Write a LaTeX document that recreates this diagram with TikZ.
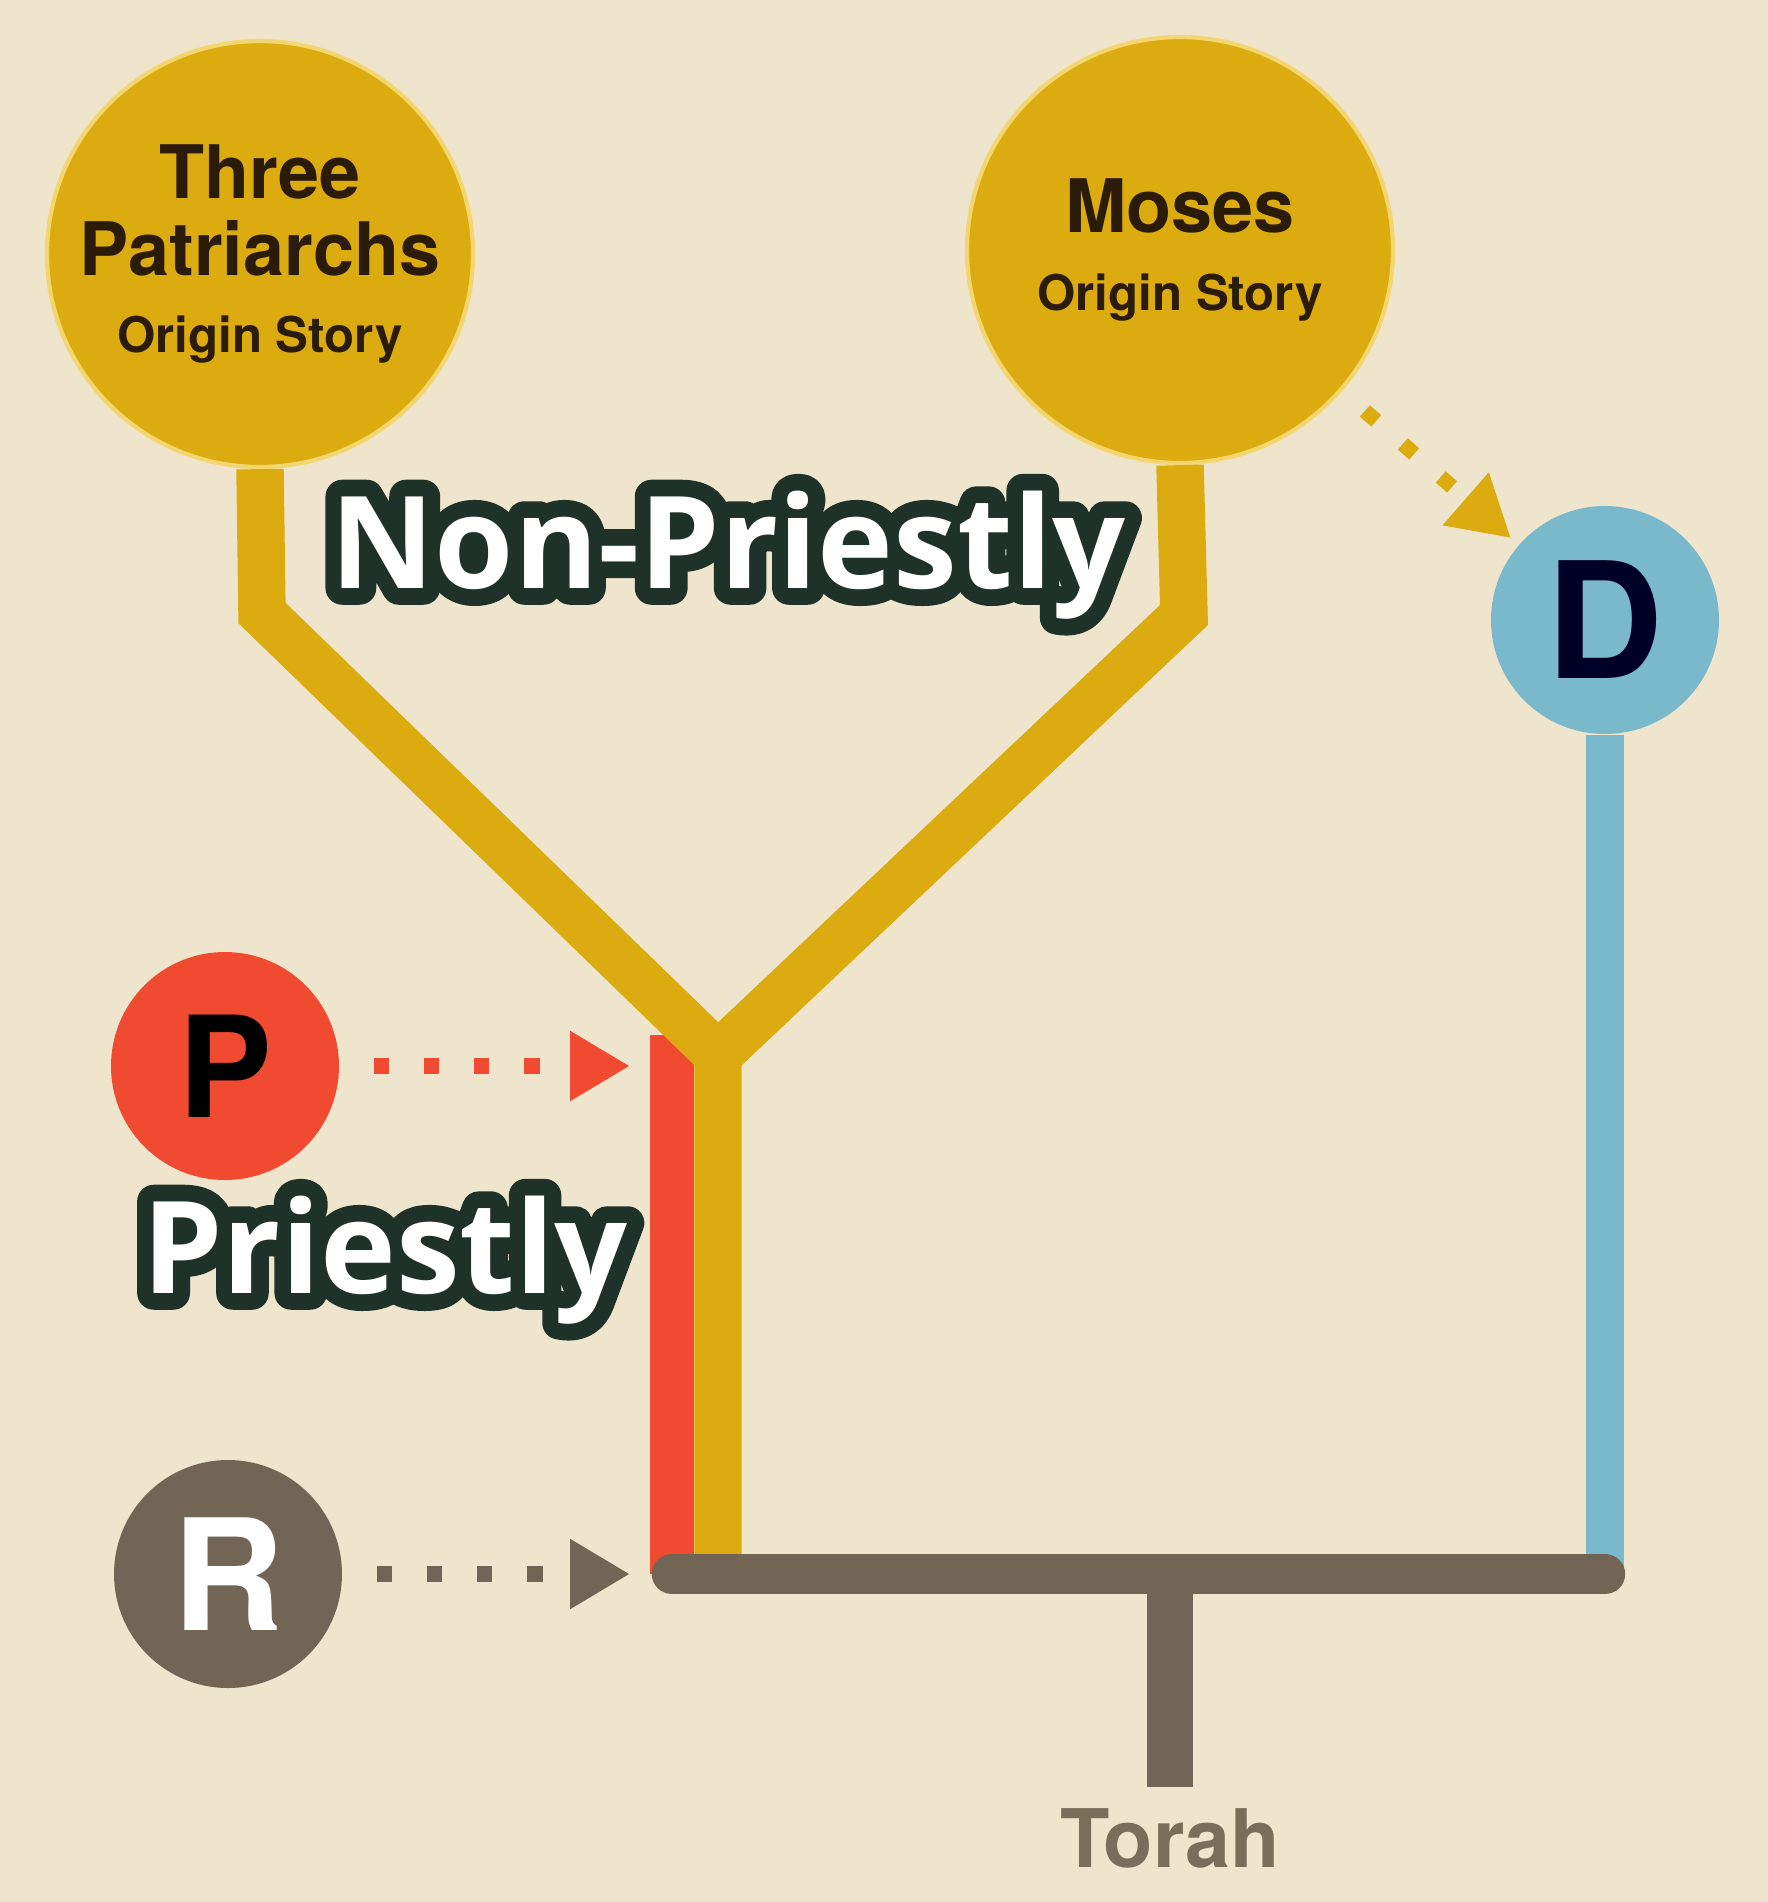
\documentclass[tikz,border=0pt]{standalone}
\usepackage{fontspec}
\usetikzlibrary{arrows.meta}
\newfontfamily\heros{TeX Gyre Heros}
\newfontfamily\tagfont{Open Sans}
\newfontfamily\tagedge{Open Sans}[BoldFeatures={FakeBold=26}]
\definecolor{cream}{RGB}{239,229,204}
\definecolor{gold}{RGB}{220,171,16}
\definecolor{halo}{RGB}{243,214,112}
\definecolor{redP}{RGB}{240,74,48}
\definecolor{blueD}{RGB}{122,184,204}
\definecolor{brownR}{RGB}{115,101,85}
\definecolor{darkline}{RGB}{31,50,41}
\definecolor{inkbrown}{RGB}{42,28,8}
\definecolor{torahgray}{RGB}{120,110,90}
% white letters with a dark rim
\newcommand\outlined[1]{\rlap{\tagedge\bfseries\color{darkline}\pgfsetroundjoin #1}#1}

\begin{document}
\begin{tikzpicture}[x=0.1mm, y=-0.1mm,
  bubble/.style={circle, fill=gold, draw=halo, line width=1.2pt, minimum size=42.6mm, inner sep=0pt, text=inkbrown, align=center, font=\heros\bfseries\fontsize{21}{22}\selectfont},
  letter/.style={circle, minimum size=22.8mm, inner sep=0pt, font=\heros\bfseries\fontsize{44}{44}\selectfont},
  trunk/.style={line width=13.5pt, gold, line join=miter},
  dotarrow/.style={line width=4.3pt, dash pattern=on 4.3pt off 10pt, -{Triangle[length=6mm,width=6.6mm]}, shorten <=3.4mm},
  tag/.style={anchor=base, text=white, font=\tagfont\bfseries\fontsize{36.5}{36.5}\selectfont}]
  \useasboundingbox (0,0) rectangle (1768,1902);
  \fill[cream] (0,0) rectangle (1768,1902);

  % sources
  \node[bubble] (three) at (260,254) {Three\\Patriarchs\\{\fontsize{14}{16}\selectfont Origin Story}};
  \node[bubble] (moses) at (1180,250) {Moses\\{\fontsize{14}{16}\selectfont Origin Story}};
  \node[letter, fill=redP, text=black, font=\heros\bfseries\fontsize{40}{40}\selectfont] (psrc) at (225,1066) {P};
  \node[letter, fill=brownR, text=white] (rsrc) at (228,1574) {R};
  \node[letter, fill=blueD, text=black!85!blue, font=\heros\bfseries\fontsize{46}{46}\selectfont] (dsrc) at (1605,620) {D};
  \node[text=torahgray, font=\heros\bfseries\fontsize{23}{23}\selectfont, inner sep=2mm] (torah) at (1170,1838) {Torah};

  \coordinate (lbend) at (262,613);
  \coordinate (rbend) at (1184,615);
  \coordinate (fork) at (718,1055);
  \coordinate (foot) at (718,1574);
  \coordinate (redtop) at (672,1035);
  \coordinate (redfoot) at (672,1574);
  \coordinate (bluefoot) at (1605,1574);
  \coordinate (tjoint) at (1170,1574);

  % strands
  \draw[line width=12.5pt, redP] (redtop) -- (redfoot);
  \draw[trunk] (three.south) -- (lbend) -- (fork) -- (foot);
  \draw[trunk] (moses.south) -- (rbend) -- (fork);
  \draw[line width=11pt, blueD] (dsrc.south) -- (bluefoot);
  \draw[line width=11.5pt, brownR, line cap=round] (redfoot) -- (bluefoot);
  \draw[line width=13pt, brownR] (tjoint) -- (torah.north);

  % dotted inputs
  \draw[dotarrow, redP, shorten >=4.2mm] (psrc) -- (psrc -| redfoot);
  \draw[dotarrow, brownR, shorten >=4.2mm] (rsrc) -- (rsrc -| redfoot);
  \draw[dotarrow, gold, shorten <=3mm, shorten >=1mm] (moses) -- (dsrc);

  \node[tag] (nonpriestly) at (728,588) {\outlined{Non-Priestly}};
  \node[tag] (priestly) at (385,1293) {\outlined{Priestly}};
\end{tikzpicture}
\end{document}
